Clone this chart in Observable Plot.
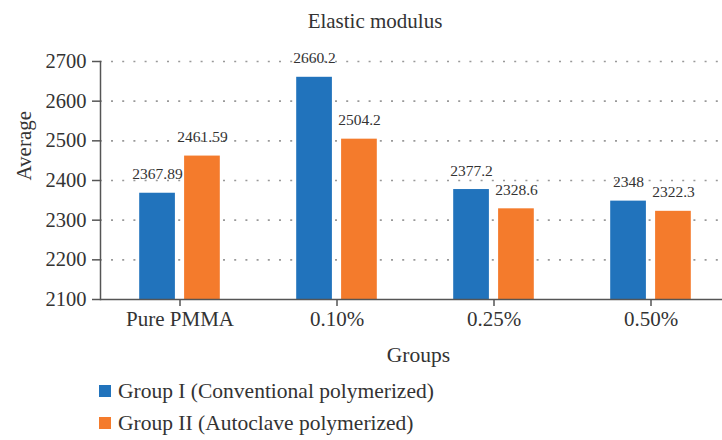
<!DOCTYPE html>
<html>
<head>
<meta charset="utf-8">
<script src="https://cdn.jsdelivr.net/npm/d3@7"></script>
<script src="https://cdn.jsdelivr.net/npm/@observablehq/plot@0.6"></script>
<style>
  body { margin: 0; background: #fff; font-family: "Liberation Serif", serif; color: #333; }
  #wrap { position: relative; width: 722px; height: 440px; overflow: hidden; }
  #title { position: absolute; top: 8px; left: 0; width: 750px; text-align: center; font-size: 21px; line-height: 26px; color: #333; }
  #chart { position: absolute; top: 0; left: 0; }
  .legend { position: absolute; left: 99px; font-size: 21.5px; line-height: 24px; display: flex; align-items: center; color: #333; }
  .sw { width: 12px; height: 12px; margin-right: 7px; }
</style>
</head>
<body>
<div id="wrap">
  <div id="chart"></div>
  <div id="title">Elastic modulus</div>
  <div class="legend" id="lg1" style="top: 379px;"><span class="sw" style="background:#2173BC"></span><span></span></div>
  <div class="legend" id="lg2" style="top: 411px;"><span class="sw" style="background:#F47B2C"></span><span></span></div>
</div>
<script>
const categories = ["Pure PMMA", "0.10%", "0.25%", "0.50%"];
const groupI = [2367.89, 2660.2, 2377.2, 2348];
const groupII = [2461.59, 2504.2, 2328.6, 2322.3];
const labelsI = ["2367.89", "2660.2", "2377.2", "2348"];
const labelsII = ["2461.59", "2504.2", "2328.6", "2322.3"];
const yTicks = [2100, 2200, 2300, 2400, 2500, 2600, 2700];
const seriesNames = ["Group I (Conventional polymerized)", "Group II (Autoclave polymerized)"];
const colors = ["#2173BC", "#F47B2C"];

const dataI = categories.map((c, i) => ({cat: c, v: groupI[i], label: labelsI[i]}));
const dataII = categories.map((c, i) => ({cat: c, v: groupII[i], label: labelsII[i]}));

const axisColor = "#555";
const chart = Plot.plot({
  width: 722,
  height: 372,
  marginTop: 61,
  marginBottom: 73,
  marginLeft: 100,
  marginRight: 0,
  style: {fontFamily: "Liberation Serif, serif", color: "#333", background: "transparent"},
  x: {domain: categories, range: [100, 729.3], padding: 0, axis: null},
  y: {domain: [2100, 2700], axis: null},
  marks: [
    Plot.ruleY(yTicks.filter(t => t > 2100), {stroke: "#999", strokeWidth: 1.6, strokeDasharray: "2,9.2", strokeDashoffset: -11}),
    Plot.barY(dataI, {x: "cat", y1: 2100, y2: "v", fill: colors[0], insetLeft: 38.2, insetRight: 83.1}),
    Plot.barY(dataII, {x: "cat", y1: 2100, y2: "v", fill: colors[1], insetLeft: 83.1, insetRight: 38.2}),
    Plot.text(dataI, {x: "cat", y: "v", text: "label", dx: -22.5, dy: -19, fontSize: 15.5, fontFamily: "Liberation Serif", fill: "#333", lineAnchor: "middle"}),
    Plot.text(dataII, {x: "cat", y: "v", text: "label", dx: 22.5, dy: -19, fontSize: 15.5, fontFamily: "Liberation Serif", fill: "#333", lineAnchor: "middle"}),
    Plot.axisY({ticks: yTicks, tickFormat: d3.format("d"), tickSize: 8, tickPadding: 6, fontSize: 20.5, label: null, stroke: axisColor, strokeWidth: 1.5, fill: "#333"}),
    Plot.axisX({tickSize: 7, tickPadding: 5, fontSize: 21, label: null, stroke: axisColor, strokeWidth: 1.5, fill: "#333"}),
    Plot.ruleY([2100], {stroke: axisColor, strokeWidth: 1.5}),
    Plot.frame({anchor: "left", stroke: axisColor, strokeWidth: 1.5}),
    Plot.text(["Average"], {frameAnchor: "left", rotate: -90, dx: -76, fontSize: 21, fill: "#333"}),
    Plot.text(["Groups"], {frameAnchor: "bottom", dx: 7, dy: 56, fontSize: 21.5, fill: "#333", lineAnchor: "middle"})
  ]
});
document.getElementById("chart").appendChild(chart);
document.querySelector("#lg1 span:last-child").textContent = seriesNames[0];
document.querySelector("#lg2 span:last-child").textContent = seriesNames[1];
</script>
</body>
</html>
